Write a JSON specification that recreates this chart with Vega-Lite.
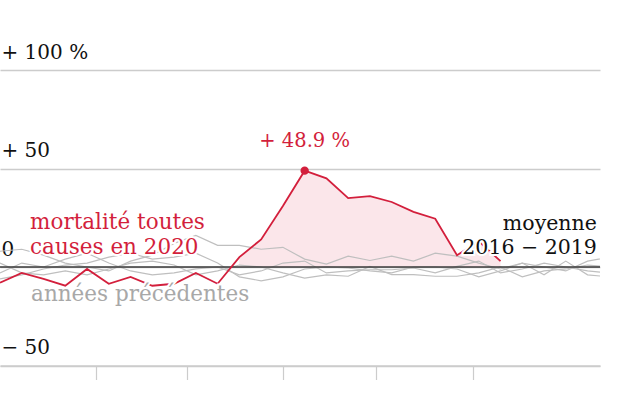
{
  "$schema": "https://vega.github.io/schema/vega-lite/v6.json",
  "width": 600,
  "height": 295.5,
  "autosize": {"type": "none"},
  "padding": {"left": 0, "top": 70, "right": 40, "bottom": 34.5},
  "background": "white",
  "config": {"view": {"stroke": null}, "font": "DejaVu Serif"},
  "datasets": {
    "series": [
      {"date": "2020-01-01", "series": "2020", "value": -8},
      {"date": "2020-01-08", "series": "2020", "value": -3},
      {"date": "2020-01-15", "series": "2020", "value": -6},
      {"date": "2020-01-22", "series": "2020", "value": -9.5},
      {"date": "2020-01-29", "series": "2020", "value": -1},
      {"date": "2020-02-05", "series": "2020", "value": -8.5},
      {"date": "2020-02-12", "series": "2020", "value": -5},
      {"date": "2020-02-19", "series": "2020", "value": -9.5},
      {"date": "2020-02-26", "series": "2020", "value": -8.5},
      {"date": "2020-03-04", "series": "2020", "value": -3},
      {"date": "2020-03-11", "series": "2020", "value": -8.5},
      {"date": "2020-03-18", "series": "2020", "value": 5},
      {"date": "2020-03-25", "series": "2020", "value": 14},
      {"date": "2020-04-01", "series": "2020", "value": 31},
      {"date": "2020-04-08", "series": "2020", "value": 48.9},
      {"date": "2020-04-15", "series": "2020", "value": 45},
      {"date": "2020-04-22", "series": "2020", "value": 35},
      {"date": "2020-04-29", "series": "2020", "value": 36},
      {"date": "2020-05-06", "series": "2020", "value": 33},
      {"date": "2020-05-13", "series": "2020", "value": 28},
      {"date": "2020-05-20", "series": "2020", "value": 24.5},
      {"date": "2020-05-27", "series": "2020", "value": 6},
      {"date": "2020-06-03", "series": "2020", "value": 13},
      {"date": "2020-06-10", "series": "2020", "value": 3},

      {"date": "2020-01-01", "series": "2016", "value": 8},
      {"date": "2020-01-08", "series": "2016", "value": 9},
      {"date": "2020-01-15", "series": "2016", "value": 6},
      {"date": "2020-01-22", "series": "2016", "value": 2},
      {"date": "2020-01-29", "series": "2016", "value": 0},
      {"date": "2020-02-05", "series": "2016", "value": -2},
      {"date": "2020-02-12", "series": "2016", "value": 3},
      {"date": "2020-02-19", "series": "2016", "value": 6},
      {"date": "2020-02-26", "series": "2016", "value": 12},
      {"date": "2020-03-04", "series": "2016", "value": 16},
      {"date": "2020-03-11", "series": "2016", "value": 11},
      {"date": "2020-03-18", "series": "2016", "value": 11},
      {"date": "2020-03-25", "series": "2016", "value": 9},
      {"date": "2020-04-01", "series": "2016", "value": 10},
      {"date": "2020-04-08", "series": "2016", "value": 4},
      {"date": "2020-04-15", "series": "2016", "value": 1.5},
      {"date": "2020-04-22", "series": "2016", "value": 5.5},
      {"date": "2020-04-29", "series": "2016", "value": 3.3},
      {"date": "2020-05-06", "series": "2016", "value": 5.5},
      {"date": "2020-05-13", "series": "2016", "value": 3},
      {"date": "2020-05-20", "series": "2016", "value": 7},
      {"date": "2020-05-27", "series": "2016", "value": 5.5},
      {"date": "2020-06-03", "series": "2016", "value": 2},
      {"date": "2020-06-10", "series": "2016", "value": -1},
      {"date": "2020-06-17", "series": "2016", "value": 2},
      {"date": "2020-06-24", "series": "2016", "value": 0},
      {"date": "2020-07-01", "series": "2016", "value": -2},
      {"date": "2020-07-08", "series": "2016", "value": 3},
      {"date": "2020-07-15", "series": "2016", "value": 5},

      {"date": "2020-01-01", "series": "2017", "value": -3},
      {"date": "2020-01-08", "series": "2017", "value": 2},
      {"date": "2020-01-15", "series": "2017", "value": 0},
      {"date": "2020-01-22", "series": "2017", "value": 4},
      {"date": "2020-01-29", "series": "2017", "value": 7},
      {"date": "2020-02-05", "series": "2017", "value": 2},
      {"date": "2020-02-12", "series": "2017", "value": -2},
      {"date": "2020-02-19", "series": "2017", "value": -4},
      {"date": "2020-02-26", "series": "2017", "value": -3},
      {"date": "2020-03-04", "series": "2017", "value": -1},
      {"date": "2020-03-11", "series": "2017", "value": 0},
      {"date": "2020-03-18", "series": "2017", "value": -4},
      {"date": "2020-03-25", "series": "2017", "value": -2},
      {"date": "2020-04-01", "series": "2017", "value": 2},
      {"date": "2020-04-08", "series": "2017", "value": 3},
      {"date": "2020-04-15", "series": "2017", "value": -3},
      {"date": "2020-04-22", "series": "2017", "value": -2},
      {"date": "2020-04-29", "series": "2017", "value": -1.4},
      {"date": "2020-05-06", "series": "2017", "value": -1.4},
      {"date": "2020-05-13", "series": "2017", "value": -0.5},
      {"date": "2020-05-20", "series": "2017", "value": -3},
      {"date": "2020-05-27", "series": "2017", "value": 0.3},
      {"date": "2020-06-03", "series": "2017", "value": 3},
      {"date": "2020-06-10", "series": "2017", "value": -3},
      {"date": "2020-06-17", "series": "2017", "value": -1},
      {"date": "2020-06-24", "series": "2017", "value": 2},
      {"date": "2020-07-01", "series": "2017", "value": 0},
      {"date": "2020-07-08", "series": "2017", "value": -2},
      {"date": "2020-07-15", "series": "2017", "value": -3},

      {"date": "2020-01-01", "series": "2018", "value": 2},
      {"date": "2020-01-08", "series": "2018", "value": -3},
      {"date": "2020-01-15", "series": "2018", "value": -4},
      {"date": "2020-01-22", "series": "2018", "value": -2},
      {"date": "2020-01-29", "series": "2018", "value": -4},
      {"date": "2020-02-05", "series": "2018", "value": -1},
      {"date": "2020-02-12", "series": "2018", "value": 2},
      {"date": "2020-02-19", "series": "2018", "value": 3},
      {"date": "2020-02-26", "series": "2018", "value": 1},
      {"date": "2020-03-04", "series": "2018", "value": -4},
      {"date": "2020-03-11", "series": "2018", "value": -2},
      {"date": "2020-03-18", "series": "2018", "value": 1},
      {"date": "2020-03-25", "series": "2018", "value": 0},
      {"date": "2020-04-01", "series": "2018", "value": -3},
      {"date": "2020-04-08", "series": "2018", "value": -5.6},
      {"date": "2020-04-15", "series": "2018", "value": -4},
      {"date": "2020-04-22", "series": "2018", "value": -4.7},
      {"date": "2020-04-29", "series": "2018", "value": 0.3},
      {"date": "2020-05-06", "series": "2018", "value": -3.9},
      {"date": "2020-05-13", "series": "2018", "value": -3.9},
      {"date": "2020-05-20", "series": "2018", "value": -4.7},
      {"date": "2020-05-27", "series": "2018", "value": -4.7},
      {"date": "2020-06-03", "series": "2018", "value": -3},
      {"date": "2020-06-10", "series": "2018", "value": 0},
      {"date": "2020-06-17", "series": "2018", "value": -5},
      {"date": "2020-06-24", "series": "2018", "value": -2},
      {"date": "2020-07-01", "series": "2018", "value": -1},
      {"date": "2020-07-08", "series": "2018", "value": 1},
      {"date": "2020-07-15", "series": "2018", "value": 0},

      {"date": "2020-01-01", "series": "2019", "value": -6},
      {"date": "2020-01-08", "series": "2019", "value": -4},
      {"date": "2020-01-15", "series": "2019", "value": -1},
      {"date": "2020-01-22", "series": "2019", "value": 1},
      {"date": "2020-01-29", "series": "2019", "value": 2},
      {"date": "2020-02-05", "series": "2019", "value": 5},
      {"date": "2020-02-12", "series": "2019", "value": 7},
      {"date": "2020-02-19", "series": "2019", "value": 4},
      {"date": "2020-02-26", "series": "2019", "value": 5},
      {"date": "2020-03-04", "series": "2019", "value": 7},
      {"date": "2020-03-11", "series": "2019", "value": 2},
      {"date": "2020-03-18", "series": "2019", "value": -5},
      {"date": "2020-03-25", "series": "2019", "value": -7},
      {"date": "2020-04-01", "series": "2019", "value": -5},
      {"date": "2020-04-08", "series": "2019", "value": -1},
      {"date": "2020-04-15", "series": "2019", "value": 0},
      {"date": "2020-04-22", "series": "2019", "value": -0.5},
      {"date": "2020-04-29", "series": "2019", "value": -2},
      {"date": "2020-05-06", "series": "2019", "value": -3},
      {"date": "2020-05-13", "series": "2019", "value": 0},
      {"date": "2020-05-20", "series": "2019", "value": 0},
      {"date": "2020-05-27", "series": "2019", "value": -1},
      {"date": "2020-06-03", "series": "2019", "value": -5},
      {"date": "2020-06-10", "series": "2019", "value": -2},
      {"date": "2020-06-17", "series": "2019", "value": 2},
      {"date": "2020-06-24", "series": "2019", "value": -4},
      {"date": "2020-07-01", "series": "2019", "value": 3},
      {"date": "2020-07-08", "series": "2019", "value": -4},
      {"date": "2020-07-15", "series": "2019", "value": -5}
    ],
    "baseline": [{"value": 0}],
    "labels": [
      {"id": "red", "date": "2020-01-10T16:00:00Z", "value": 19.5, "text": "mortalité toutes\ncauses en 2020"},
      {"id": "gray", "date": "2020-01-11T00:00:00Z", "value": -17.3, "text": "années précédentes"},
      {"id": "peak", "date": "2020-04-08", "value": 60.9, "text": "+ 48.9 %"},
      {"id": "mean", "date": "2020-07-11", "value": 19, "text": "moyenne\n2016 − 2019"}
    ]
  },
  "layer": [
    {
      "data": {"name": "series"},
      "transform": [{"filter": "datum.series == '2020' && datum.value >= 0"}],
      "mark": {"type": "area", "color": "#fbe6ea", "opacity": 1},
      "encoding": {
        "x": {
          "field": "date", "type": "temporal", "title": null,
          "scale": {"type": "utc", "domain": [{"year": 2020, "month": 1, "date": 1, "utc": true}, {"year": 2020, "month": 7, "date": 12, "utc": true}]},
          "axis": {
            "values": [
              {"year": 2020, "month": 2, "date": 1, "utc": true},
              {"year": 2020, "month": 3, "date": 1, "utc": true},
              {"year": 2020, "month": 4, "date": 1, "utc": true},
              {"year": 2020, "month": 5, "date": 1, "utc": true},
              {"year": 2020, "month": 6, "date": 1, "utc": true}
            ],
            "grid": false, "domain": true, "domainColor": "#cccccc", "domainWidth": 1.5,
            "ticks": true, "tickColor": "#cccccc", "tickWidth": 1.2, "tickSize": 14,
            "labels": false, "title": null
          }
        },
        "y": {
          "field": "value", "type": "quantitative", "title": null,
          "scale": {"domain": [-50, 100], "nice": false, "zero": false},
          "axis": {
            "values": [-50, 0, 50, 100], "grid": true, "gridColor": "#cccccc", "gridWidth": 1.5,
            "domain": false, "ticks": false, "tickSize": 0,
            "labelAlign": "left", "labelBaseline": "alphabetic", "labelPadding": -1, "labelOffset": -12,
            "labelFont": "DejaVu Serif", "labelFontSize": 20, "labelColor": "#111111",
            "labelFlush": false, "labelOverlap": false, "labelBound": false,
            "labelExpr": "datum.value == 100 ? '+ 100 %' : datum.value > 0 ? '+ ' + datum.value : datum.value < 0 ? '− ' + abs(datum.value) : '0'",
            "title": null
          }
        },
        "y2": {"datum": 0}
      }
    },
    {
      "data": {"name": "series"},
      "transform": [{"filter": "datum.series != '2020'"}],
      "mark": {"type": "line", "color": "#bfbfbf", "strokeWidth": 1.2, "clip": true},
      "encoding": {
        "x": {"field": "date", "type": "temporal", "title": null},
        "y": {"field": "value", "type": "quantitative", "title": null},
        "detail": {"field": "series"}
      }
    },
    {
      "data": {"name": "baseline"},
      "mark": {"type": "rule", "color": "#3a3a3a", "strokeWidth": 1.5},
      "encoding": {
        "y": {"field": "value", "type": "quantitative", "title": null}
      }
    },
    {
      "data": {"name": "series"},
      "transform": [{"filter": "datum.series == '2020'"}],
      "mark": {"type": "line", "color": "#d31f3c", "strokeWidth": 1.8},
      "encoding": {
        "x": {"field": "date", "type": "temporal", "title": null},
        "y": {"field": "value", "type": "quantitative", "title": null}
      }
    },
    {
      "data": {"name": "series"},
      "transform": [{"filter": "datum.series == '2020' && datum.value == 48.9"}],
      "mark": {"type": "point", "filled": true, "color": "#d31f3c", "size": 70, "opacity": 1},
      "encoding": {
        "x": {"field": "date", "type": "temporal", "title": null},
        "y": {"field": "value", "type": "quantitative", "title": null}
      }
    },
    {
      "data": {"name": "labels"},
      "transform": [{"filter": "datum.id == 'red'"}],
      "mark": {"type": "text", "align": "left", "baseline": "alphabetic", "fontSize": 21.5, "lineHeight": 25, "lineBreak": "\n", "font": "DejaVu Serif", "color": "white", "stroke": "white", "strokeWidth": 4},
      "encoding": {"x": {"field": "date", "type": "temporal", "title": null}, "y": {"field": "value", "type": "quantitative", "title": null}, "text": {"field": "text"}}
    },
    {
      "data": {"name": "labels"},
      "transform": [{"filter": "datum.id == 'red'"}],
      "mark": {"type": "text", "align": "left", "baseline": "alphabetic", "fontSize": 21.5, "lineHeight": 25, "lineBreak": "\n", "font": "DejaVu Serif", "color": "#d31f3c"},
      "encoding": {"x": {"field": "date", "type": "temporal", "title": null}, "y": {"field": "value", "type": "quantitative", "title": null}, "text": {"field": "text"}}
    },
    {
      "data": {"name": "labels"},
      "transform": [{"filter": "datum.id == 'gray'"}],
      "mark": {"type": "text", "align": "left", "baseline": "alphabetic", "fontSize": 21.5, "font": "DejaVu Serif", "color": "white", "stroke": "white", "strokeWidth": 4},
      "encoding": {"x": {"field": "date", "type": "temporal", "title": null}, "y": {"field": "value", "type": "quantitative", "title": null}, "text": {"field": "text"}}
    },
    {
      "data": {"name": "labels"},
      "transform": [{"filter": "datum.id == 'gray'"}],
      "mark": {"type": "text", "align": "left", "baseline": "alphabetic", "fontSize": 21.5, "font": "DejaVu Serif", "color": "#a8a8a8"},
      "encoding": {"x": {"field": "date", "type": "temporal", "title": null}, "y": {"field": "value", "type": "quantitative", "title": null}, "text": {"field": "text"}}
    },
    {
      "data": {"name": "labels"},
      "transform": [{"filter": "datum.id == 'peak'"}],
      "mark": {"type": "text", "align": "center", "baseline": "alphabetic", "fontSize": 19.5, "font": "DejaVu Serif", "color": "#d31f3c"},
      "encoding": {"x": {"field": "date", "type": "temporal", "title": null}, "y": {"field": "value", "type": "quantitative", "title": null}, "text": {"field": "text"}}
    },
    {
      "data": {"name": "labels"},
      "transform": [{"filter": "datum.id == 'mean'"}],
      "mark": {"type": "text", "align": "right", "baseline": "alphabetic", "fontSize": 20.5, "lineHeight": 24, "lineBreak": "\n", "font": "DejaVu Serif", "color": "white", "stroke": "white", "strokeWidth": 4},
      "encoding": {"x": {"field": "date", "type": "temporal", "title": null}, "y": {"field": "value", "type": "quantitative", "title": null}, "text": {"field": "text"}}
    },
    {
      "data": {"name": "labels"},
      "transform": [{"filter": "datum.id == 'mean'"}],
      "mark": {"type": "text", "align": "right", "baseline": "alphabetic", "fontSize": 20.5, "lineHeight": 24, "lineBreak": "\n", "font": "DejaVu Serif", "color": "#111111"},
      "encoding": {"x": {"field": "date", "type": "temporal", "title": null}, "y": {"field": "value", "type": "quantitative", "title": null}, "text": {"field": "text"}}
    }
  ]
}
